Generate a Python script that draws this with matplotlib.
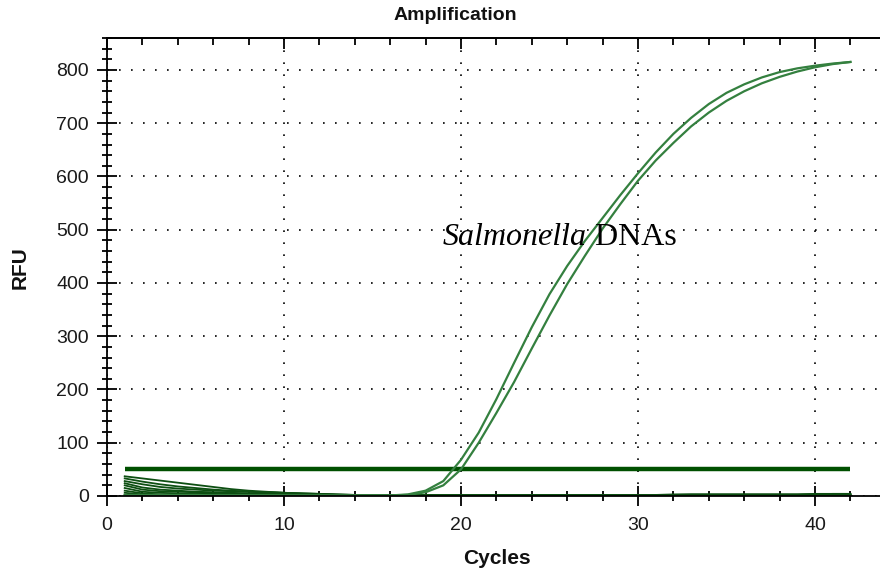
import matplotlib
matplotlib.use("Agg")
import matplotlib.pyplot as plt
from matplotlib.ticker import MultipleLocator

# ---------------- data ----------------
cycles = list(range(1, 43))

# two Salmonella amplification curves (RFU per cycle)
amp_a = [2, 2, 2, 2, 2, 1, 1, 1, 1, 1, 1, 1, 1, 1, 1, 1,
         3, 10, 28, 68, 119, 182, 250, 317, 379, 432, 479, 522, 565, 606,
         645, 680, 710, 736, 757, 773, 786, 796, 803, 808, 812, 815]
amp_b = [1, 1, 1, 1, 1, 1, 1, 1, 1, 1, 1, 1, 1, 1, 1, 1,
         2, 7, 20, 50, 100, 156, 214, 277, 339, 398, 451, 502, 548, 592,
         630, 663, 694, 720, 742, 760, 775, 787, 797, 805, 811, 815]

# negative / baseline curves
base_curves = [
    [37, 33, 29, 25, 21, 17, 13, 10, 8, 6, 4, 3, 2, 1, 1, 1, 1, 1, 1, 1, 1,
     1, 1, 2, 2, 2, 2, 2, 2, 2, 2, 2, 3, 3, 3, 3, 3, 3, 3, 4, 4, 4],
    [33, 27, 22, 18, 15, 12, 10, 8, 7, 6, 5, 4, 3, 2, 1, 1, 1, 1, 1, 1, 1,
     2, 2, 2, 2, 2, 2, 2, 2, 2, 2, 3, 3, 3, 3, 3, 3, 3, 3, 3, 4, 4],
    [28, 22, 17, 14, 12, 10, 9, 8, 7, 6, 5, 4, 3, 2, 1, 1, 1, 1, 1, 1, 1,
     1, 1, 1, 1, 1, 1, 1, 1, 1, 2, 2, 2, 2, 2, 2, 2, 2, 2, 3, 3, 3],
    [24, 16, 12, 10, 8, 7, 6, 5, 4, 4, 3, 3, 2, 2, 1, 1, 1, 1, 1, 1, 1,
     1, 1, 1, 1, 1, 1, 1, 1, 1, 1, 1, 1, 2, 2, 2, 2, 2, 2, 2, 2, 2],
    [20, 12, 9, 8, 7, 6, 5, 4, 4, 3, 3, 2, 2, 1, 1, 1, 1, 1, 1, 1, 1,
     1, 1, 1, 1, 1, 1, 1, 1, 1, 1, 1, 1, 1, 1, 1, 1, 1, 1, 1, 1, 1],
    [15, 8, 6, 5, 4, 4, 3, 3, 2, 2, 2, 1, 1, 1, 1, 1, 1, 1, 1, 1, 1,
     1, 1, 1, 1, 1, 1, 1, 1, 1, 1, 1, 1, 1, 1, 1, 1, 1, 1, 1, 1, 1],
    [10, 5, 3, 3, 2, 2, 2, 2, 1, 1, 1, 1, 1, 1, 1, 1, 1, 1, 1, 1, 1,
     1, 1, 1, 1, 1, 1, 1, 1, 1, 1, 1, 1, 1, 1, 1, 1, 1, 1, 1, 1, 1],
    [6, 3, 2, 2, 1, 1, 1, 1, 1, 1, 1, 1, 1, 1, 1, 1, 1, 1, 1, 1, 1,
     1, 1, 1, 1, 1, 1, 1, 1, 1, 1, 1, 1, 1, 1, 1, 1, 1, 1, 1, 1, 1],
]

threshold = 50
x_ticks = [0, 10, 20, 30, 40]
y_ticks = [0, 100, 200, 300, 400, 500, 600, 700, 800]

# ---------------- figure ----------------
plt.rcParams['font.family'] = ['Liberation Sans', 'DejaVu Sans']

fig = plt.figure(figsize=(8.8, 5.76), dpi=100)
ax = fig.add_axes([107 / 880, 1 - 496 / 576, 1 - 107 / 880, (496 - 38) / 576])

ax.set_xlim(0, (880 - 107) / 17.7)
ax.set_ylim(0, 860)

# grid (dotted)
ax.set_xticks(x_ticks)
ax.set_yticks(y_ticks)
ax.grid(True, which='major', color='black', linestyle=(0, (1, 6.2)), linewidth=1.2)
ax.set_axisbelow(True)

# baseline curves
for bc in base_curves:
    ax.plot(cycles, bc, color='#0d4f12', linewidth=1.3, solid_joinstyle='round')

# threshold
ax.plot([cycles[0], cycles[-1]], [threshold, threshold], color='#005000',
        linewidth=3.2, solid_capstyle='butt')

# amplification curves
for amp in (amp_a, amp_b):
    ax.plot(cycles, amp, color='#34803f', linewidth=1.6, solid_joinstyle='round')

# spines
ax.spines['right'].set_visible(False)
for s in ('left', 'bottom', 'top'):
    ax.spines[s].set_linewidth(1.3)
    ax.spines[s].set_color('black')

# ticks
ax.xaxis.set_minor_locator(MultipleLocator(2))
ax.yaxis.set_minor_locator(MultipleLocator(20))
ax.tick_params(axis='both', which='major', direction='inout', length=14, width=1.3,
               labelsize=14, colors='black', labelcolor='#1a1a1a')
ax.tick_params(axis='both', which='minor', direction='inout', length=7, width=1.3)
ax.tick_params(axis='x', which='major', pad=8)
ax.tick_params(axis='y', which='major', pad=6)

# top ticks pointing inward
sec = ax.secondary_xaxis('top')
sec.set_xticks(x_ticks)
sec.xaxis.set_minor_locator(MultipleLocator(2))
sec.tick_params(which='major', direction='in', length=8, width=1.3, labeltop=False)
sec.tick_params(which='minor', direction='in', length=5, width=1.3)
sec.spines['top'].set_linewidth(1.3)

# texts
fig.text(455 / 880, 1 - 15 / 576, 'Amplification', ha='center', va='center',
         fontsize=14, fontweight='bold', color='#111111')
fig.text(497 / 880, 1 - 558 / 576, 'Cycles', ha='center', va='center',
         fontsize=15, fontweight='bold', color='#111111')
fig.text(20 / 880, 1 - 268 / 576, 'RFU', ha='center', va='center', rotation=90,
         fontsize=15, fontweight='bold', color='#111111')

t1 = fig.text(443 / 880, 1 - 245 / 576, 'Salmonella', ha='left', va='baseline',
              fontsize=23, family='Liberation Serif', style='italic', color='black')
ax.annotate(' DNAs', xy=(1, 0), xycoords=t1, ha='left', va='bottom',
            fontsize=23, family='Liberation Serif', color='black',
            annotation_clip=False)

fig.savefig('out.png', dpi=100)
